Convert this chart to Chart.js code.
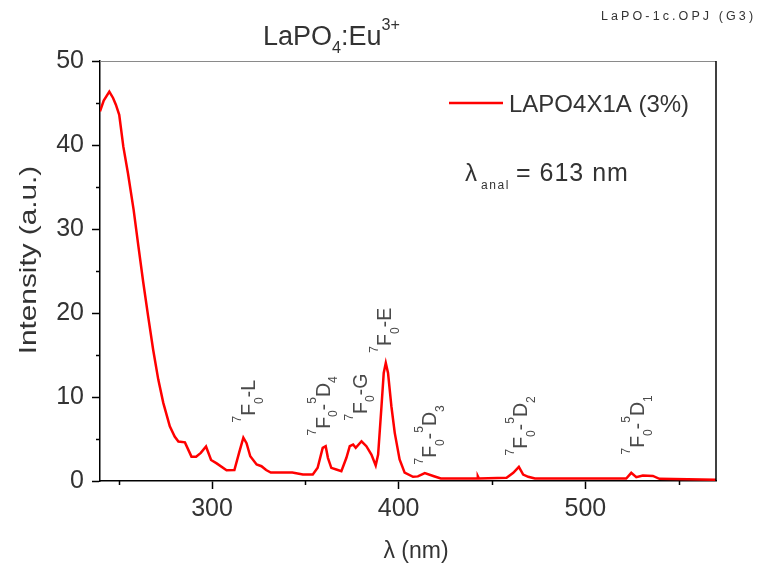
<!DOCTYPE html>
<html>
<head>
<meta charset="utf-8">
<script src="https://cdn.jsdelivr.net/npm/chart.js@4.4.1/dist/chart.umd.min.js"></script>
<style>
    html, body { margin: 0; padding: 0; background: #fff; }
    .chart_box { width: 761px; height: 571px; }
</style>
</head>
<body>
<div class="chart_box"><canvas id="spectrum"></canvas></div>
<script>
'use strict'
// excitation spectrum of LaPO4:Eu (3%), emission watched at 613 nm

const wavelengths = [
    240, 242, 245, 247, 248.5, 250.3, 252.5, 255, 258, 260.6, 263.2, 265.8, 268.5, 271.2, 273.9,
    277.4, 280, 282, 285.5, 289, 291.5, 294, 296.8, 299.5, 302.5, 307.8, 312, 314.5, 316.8, 318.5,
    320.5, 323.9, 326.5, 329, 331.5, 343, 348.7, 354, 356.6, 359.3, 360.9, 362.1, 363.9, 366.6,
    369.3, 372, 373.8, 375.6, 377, 380.1, 382.7, 385.4, 387.7, 389, 390.8, 392, 393.1, 394.3,
    396.1, 397.9, 400.5, 403.2, 407.7, 410.3, 414, 418.9, 422.6, 442, 442.4, 443, 457.8, 461.4,
    464.4, 466.7, 469.4, 473, 521.9, 524.6, 527.3, 530.8, 536.2, 539.7, 562.3, 570
];
const intensities = [
    44.0, 45.3, 46.35, 45.6, 44.8, 43.6, 39.8, 36.6, 32.3, 27.9, 23.6, 19.6, 15.6, 12.1, 9.3,
    6.5, 5.3, 4.7, 4.6, 2.9, 2.9, 3.35, 4.1, 2.5, 2.1, 1.28, 1.3, 3.35, 5.15, 4.5,
    2.95, 1.96, 1.76, 1.3, 1.0, 1.0, 0.77, 0.77, 1.57, 3.95, 4.14, 2.76, 1.57, 1.37,
    1.17, 2.76, 4.14, 4.34, 3.95, 4.73, 4.14, 3.15, 1.84, 3.15, 8.9, 12.87, 14.05, 12.87,
    8.9, 5.73, 2.56, 1.0, 0.5, 0.55, 0.95, 0.57, 0.3, 0.3, 0.57, 0.3, 0.38, 0.97,
    1.69, 0.77, 0.5, 0.3, 0.3, 0.97, 0.45, 0.65, 0.6, 0.26, 0.18, 0.15
];

const xTicks = [250, 300, 350, 400, 450, 500, 550];
const yTicks = [0, 5, 10, 15, 20, 25, 30, 35, 40, 45, 50];

// transition labels: ^ = superscript, _ = subscript; anchor is where the rotated text starts
const transitionNames = ['^7F_0-L', '^7F_0-^5D_4', '^7F_0-G', '^7F_0-E', '^7F_0-^5D_3', '^7F_0-^5D_2', '^7F_0-^5D_1'];
const transitionNm = [322.9, 363.0, 382.8, 396.1, 420.2, 468.9, 531.4];
const transitionLevel = [6.96, 5.41, 7.19, 15.28, 1.96, 3.03, 3.15];

const FONT = '"Liberation Sans", Arial, sans-serif';

function parseRich(str) {
    const parts = [];
    let i = 0;
    while (i < str.length) {
        const c = str[i];
        if (c === '^' || c === '_') {
            const mode = c === '^' ? 'sup' : 'sub';
            let t;
            if (str[i + 1] === '{') {
                const j = str.indexOf('}', i);
                t = str.slice(i + 2, j);
                i = j + 1;
            } else {
                t = str[i + 1];
                i += 2;
            }
            parts.push([t, mode]);
        } else {
            let j = i;
            while (j < str.length && str[j] !== '^' && str[j] !== '_') j++;
            parts.push([str.slice(i, j), 'n']);
            i = j;
        }
    }
    return parts;
}

function drawRich(ctx, str, x, y, size, o) {
    let cx = x;
    for (const [t, mode] of parseRich(str)) {
        const s = mode === 'n' ? size : size * o.small;
        ctx.font = `${s}px ${FONT}`;
        const dy = mode === 'sup' ? -size * o.rise : (mode === 'sub' ? size * o.drop : 0);
        ctx.fillText(t, cx, y + dy);
        cx += ctx.measureText(t).width;
    }
    return cx - x;
}

function spaced(ctx, text, x, y, gap) {
    let cx = x;
    for (const ch of text) {
        ctx.fillText(ch, cx, y);
        cx += ctx.measureText(ch).width + gap;
    }
}

const decorations = {
    id: 'decorations',
    afterDraw(chart) {
        const ctx = chart.ctx;
        const {left, right, top, bottom} = chart.chartArea;
        const xs = chart.scales.x;
        const ys = chart.scales.y;
        ctx.save();

        // frame: grey top, black right
        ctx.lineWidth = 1;
        ctx.strokeStyle = '#8a8a8a';
        ctx.beginPath();
        ctx.moveTo(left, top + 0.5);
        ctx.lineTo(right, top + 0.5);
        ctx.stroke();
        ctx.strokeStyle = '#000';
        ctx.lineWidth = 1.5;
        ctx.beginPath();
        ctx.moveTo(right, top);
        ctx.lineTo(right, bottom);
        ctx.stroke();

        // minor ticks
        ctx.lineWidth = 1.5;
        ctx.beginPath();
        for (const v of xTicks) {
            if (v % 100 !== 0) {
                const px = Math.round(xs.getPixelForValue(v)) + 0.5;
                ctx.moveTo(px, bottom);
                ctx.lineTo(px, bottom + 4);
            }
        }
        for (const v of yTicks) {
            if (v % 10 !== 0) {
                const py = Math.round(ys.getPixelForValue(v)) + 0.5;
                ctx.moveTo(left, py);
                ctx.lineTo(left - 4, py);
            }
        }
        ctx.stroke();

        ctx.fillStyle = '#333';
        ctx.textBaseline = 'alphabetic';
        ctx.textAlign = 'left';

        // title
        drawRich(ctx, 'LaPO_4:Eu^{3+}', 263, 45, 27, {small: 0.6, rise: 0.55, drop: 0.3});

        // file tag
        ctx.font = `12.5px ${FONT}`;
        spaced(ctx, 'LaPO-1c.OPJ (G3)', 601, 20, 3.1);

        // x axis title
        ctx.font = `23px ${FONT}`;
        ctx.textAlign = 'center';
        ctx.fillText('\u03bb (nm)', 416, 558);
        ctx.textAlign = 'left';

        // y axis title, long and narrow
        ctx.save();
        ctx.translate(29, 260);
        ctx.rotate(-Math.PI / 2);
        ctx.scale(1.24, 1);
        ctx.font = `24px ${FONT}`;
        ctx.textAlign = 'center';
        ctx.textBaseline = 'middle';
        ctx.fillText('Intensity (a.u.)', 0, 0);
        ctx.restore();

        // legend
        ctx.strokeStyle = '#ff0000';
        ctx.lineWidth = 2.5;
        ctx.beginPath();
        ctx.moveTo(449, 103);
        ctx.lineTo(503, 103);
        ctx.stroke();
        ctx.font = `24px ${FONT}`;
        ctx.fillText('LAPO4X1A (3%)', 509, 112);

        // analysed wavelength
        ctx.fillText('\u03bb', 465, 181);
        ctx.font = `12px ${FONT}`;
        spaced(ctx, 'anal', 481, 189, 1.6);
        ctx.font = `25px ${FONT}`;
        spaced(ctx, '= 613 nm', 516, 181, 1.0);

        // transition labels
        ctx.fillStyle = '#4a4a4a';
        transitionNames.forEach((name, i) => {
            const px = xs.getPixelForValue(transitionNm[i]);
            const py = ys.getPixelForValue(transitionLevel[i]);
            ctx.save();
            ctx.translate(px, py);
            ctx.rotate(-Math.PI / 2);
            drawRich(ctx, name, 0, 0, 19.5, {small: 0.62, rise: 0.7, drop: 0.4});
            ctx.restore();
        });

        ctx.restore();
    }
};

document.addEventListener('DOMContentLoaded', () => {
    const ctx = document.getElementById('spectrum').getContext('2d');

    new Chart(ctx, {
        type: 'line',
        data: {
            datasets: [{
                data: wavelengths.map((w, i) => ({x: w, y: intensities[i]})),
                borderColor: '#ff0000',
                borderWidth: 2.5,
                pointRadius: 0,
                tension: 0,
                fill: false
            }]
        },
        options: {
            responsive: true,
            maintainAspectRatio: false,
            devicePixelRatio: 1,
            animation: false,
            layout: {
                padding: {top: 61, right: 45, left: 0, bottom: 0}
            },
            plugins: {
                legend: {display: false},
                tooltip: {enabled: false}
            },
            scales: {
                x: {
                    type: 'linear',
                    min: 240,
                    max: 570,
                    afterFit: (s) => { s.height = 90; },
                    afterBuildTicks: (s) => { s.ticks = xTicks.map(v => ({value: v})); },
                    border: {color: '#000', width: 1.5},
                    grid: {
                        drawOnChartArea: false,
                        tickLength: 8,
                        tickWidth: 1.5,
                        tickColor: (c) => (c.tick && c.tick.value % 100 === 0) ? '#000' : 'rgba(0,0,0,0)'
                    },
                    ticks: {
                        autoSkip: false,
                        maxRotation: 0,
                        padding: 5,
                        color: '#333',
                        font: {family: FONT, size: 25},
                        callback: (v) => v % 100 === 0 ? v : ''
                    }
                },
                y: {
                    min: 0,
                    max: 50,
                    afterFit: (s) => { s.width = 100; },
                    afterBuildTicks: (s) => { s.ticks = yTicks.map(v => ({value: v})); },
                    border: {color: '#000', width: 1.5},
                    grid: {
                        drawOnChartArea: false,
                        tickLength: 8,
                        tickWidth: 1.5,
                        tickColor: (c) => (c.tick && c.tick.value % 10 === 0) ? '#000' : 'rgba(0,0,0,0)'
                    },
                    ticks: {
                        autoSkip: false,
                        padding: 8,
                        color: '#333',
                        font: {family: FONT, size: 25},
                        callback: (v) => v % 10 === 0 ? v : ''
                    }
                }
            }
        },
        plugins: [decorations]
    });
});
</script>
</body>
</html>
